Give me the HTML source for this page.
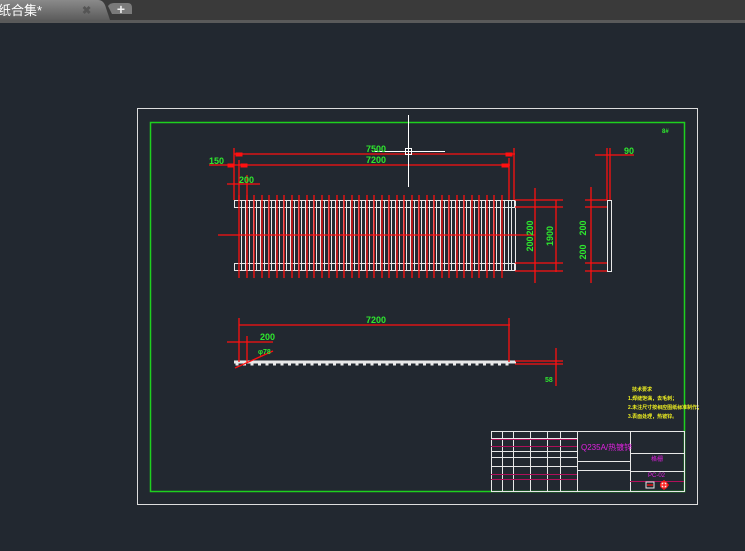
<!DOCTYPE html>
<html><head><meta charset="utf-8"><style>
html,body{margin:0;padding:0;background:#222830;width:745px;height:551px;overflow:hidden}
svg{display:block}
text{font-family:"Liberation Sans","Noto Sans CJK SC",sans-serif}
</style></head><body>
<svg id="s" width="745" height="551" xmlns="http://www.w3.org/2000/svg">
<defs><linearGradient id="tg" x1="0" y1="0" x2="0" y2="1"><stop offset="0" stop-color="#8a8a8a"/><stop offset="1" stop-color="#5c5c5c"/></linearGradient></defs>
<rect width="745" height="551" fill="#222830"/>
<rect x="0" y="0" width="745" height="20" fill="#3a3a3a"/>
<path d="M0 0 H98 Q104 0 106 8 L110 20 H0 Z" fill="url(#tg)"/>
<path d="M108 6 Q110 3 114 3 H128 Q132 3 132 8 V14 H112 Z" fill="#7a7a7a"/>
<text x="121" y="14" font-size="14" fill="#eee" text-anchor="middle" font-weight="bold">+</text>
<text x="-2" y="15" font-size="13" fill="#fff">纸合集*</text>
<text x="82" y="14" font-size="11" fill="#555" font-weight="bold">✖</text>
<rect x="0" y="20" width="745" height="3" fill="#5a5a5a"/>
<rect x="137.5" y="108.5" width="560" height="396" fill="none" stroke="#ddd" stroke-width="1"/>
<rect x="150.5" y="122.5" width="534" height="369" fill="none" stroke="#1ed01e" stroke-width="1.5"/>
<g id="g" stroke-width="1.3" fill="none"></g>
<g font-size="9" fill="#2ee82e" font-weight="bold" font-family="Liberation Sans">
<text x="366" y="152">7500</text><text x="366" y="163">7200</text>
<text x="209" y="164">150</text><text x="239" y="183">200</text>
<text x="366" y="323">7200</text><text x="260" y="340">200</text>
<text x="258" y="354" font-size="7">φ78</text><text x="545" y="382" font-size="7">58</text>
<text x="624" y="154">90</text><text x="662" y="133" font-size="6">8#</text>
<text transform="translate(533,228) rotate(-90)" text-anchor="middle">200</text>
<text transform="translate(533,244) rotate(-90)" text-anchor="middle">200</text>
<text transform="translate(553,236) rotate(-90)" text-anchor="middle">1900</text>
<text transform="translate(586,228) rotate(-90)" text-anchor="middle">200</text>
<text transform="translate(586,252) rotate(-90)" text-anchor="middle">200</text>
</g>
<g font-size="5" fill="#f0f020" font-weight="bold">
<text x="632" y="391">技术要求</text>
<text x="628" y="400">1.焊缝饱满，去毛刺；</text>
<text x="628" y="409">2.未注尺寸按相应图纸标准制作；</text>
<text x="628" y="418">3.表面处理，热镀锌。</text>
</g>
<g font-size="8" fill="#e020e0">
<text x="581" y="450">Q235A/热镀锌</text>
<text x="651" y="461" font-size="6">格栅</text>
<text x="648" y="477" font-size="6">PC-02</text>
</g>
</svg>
<script>
var g=document.getElementById('g'),h='';
function L(x1,y1,x2,y2,c){h+='<line x1="'+x1+'" y1="'+y1+'" x2="'+x2+'" y2="'+y2+'" stroke="'+c+'"/>';}
function R(x,y,w,hh,c,f){h+='<rect x="'+x+'" y="'+y+'" width="'+w+'" height="'+hh+'" stroke="'+c+'" fill="'+(f||'none')+'" stroke-width="1"/>';}
var W='#e8e8e8',r='#ff1010',m='#b0105a';
R(234.5,200.5,280,7,W);R(234.5,263.5,280,7,W);
for(var i=0;i<37;i++){var x=Math.round(241+i*7.5)+0.5;R(x,200.5,4,70,W);}
for(var i=0;i<36;i++){var x=Math.round(239+i*7.5);L(x,195,x,278,r);}
L(218,235,535,235,r);
L(234,148,234,200,r);L(514,148,514,200,r);L(509,158,509,200,r);L(239,160,239,200,r);L(247,175,247,200,r);
L(234,154,515,154,r);L(209,165,510,165,r);L(227,184,260,184,r);
R(236,153,6,3,r,r);R(506,153,6,3,r,r);R(228,164,6,3,r,r);R(241,164,6,3,r,r);R(502,164,6,3,r,r);
[200,207,263,271].forEach(function(y){L(515,y,563,y,r);L(585,y,607,y,r);});
L(535,188,535,283,r);L(556,200,556,272,r);L(591,187,591,283,r);
R(607.5,200.5,4,71,W);L(607,148,607,200,r);L(610,148,610,200,r);L(595,155,634,155,r);
R(234.5,361,281,2,W,W);
for(var i=0;i<37;i++){R(236+i*7.5,363,2,2,W,W);}
L(239,318,239,362,r);L(509,318,509,362,r);L(239,325,510,325,r);
L(227,342,273,342,r);L(247,336,247,362,r);L(235,368,273,351,r);
L(515,361,563,361,r);L(515,364,563,364,r);L(556,348,556,386,r);
h+='<g stroke-width="1">';
L(408.5,115,408.5,187,'#fff');L(372,151.5,445,151.5,'#fff');R(405.5,148.5,6,6,'#fff');
R(491.5,431.5,193,60,W);
[502.5,513.5,530.5,547.5,560.5].forEach(function(x){L(x,431,x,491,W);});
L(577.5,431,577.5,491,W);L(630.5,431,630.5,491,W);
[438.5,451.5,457.5,466.5].forEach(function(y){L(491,y,577,y,W);});
L(577,461.5,630,461.5,W);L(577,470.5,630,470.5,W);L(630,453.5,684,453.5,W);L(630,471.5,684,471.5,W);
[439.5,446.5,474.5,479.5].forEach(function(y){L(491,y,577,y,m);});L(630,481.5,684,481.5,m);
h+='</g>';
R(646,482,8,6,W);L(647,485,653,485,r);h+='<circle cx="664" cy="485" r="3.5" fill="#f0f0f0" stroke="#f02020"/>';
L(660,485,669,485,r);L(664,480,664,490,r);
g.innerHTML=h;
</script>
</body></html>
